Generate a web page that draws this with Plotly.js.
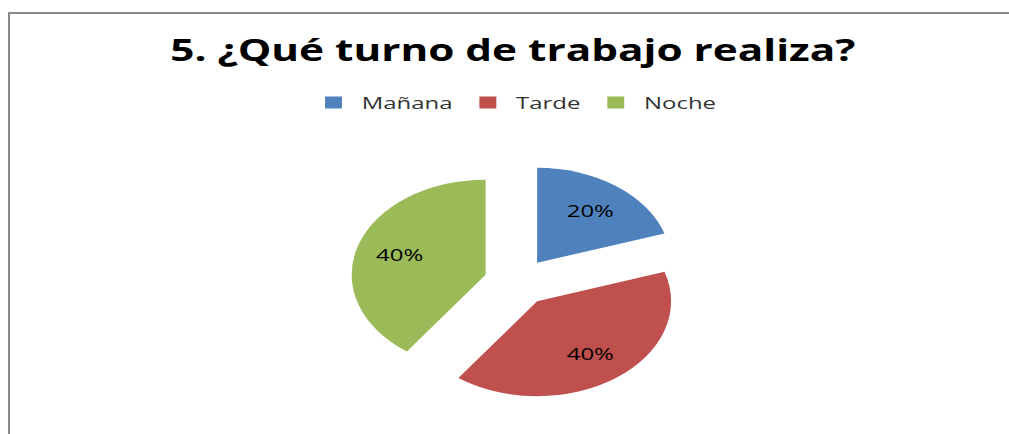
<!DOCTYPE html>
<html><head><meta charset="utf-8">
<script src="https://cdn.plot.ly/plotly-3.0.1.min.js"></script>
<style>
html,body{margin:0;padding:0;width:1009px;height:434px;overflow:hidden;background:#fff;}
#frame{position:absolute;left:8px;top:12px;width:1100px;height:500px;border-left:2px solid #8a8a8a;border-top:2px solid #8a8a8a;}
#chart{position:absolute;left:0;top:0;width:716px;height:434px;transform:scaleX(1.41);transform-origin:0 0;}
</style></head><body>
<div id="frame"></div>
<div id="chart"></div>
<script>
const categories = ['Mañana', 'Tarde', 'Noche'];
const values = [20, 40, 40];
const sliceColors = ['#4F81BD', '#C0504D', '#9BBB59'];
const chartTitle = '5. ¿Qué turno de trabajo realiza?';

const pieDomain = {x: [0.3466, 0.6785], y: [0.0766, 0.6238]};
const pulls = categories.map(() => 0.25);

// slices
const slices = {
  type: 'pie',
  labels: categories,
  values: values,
  sort: false,
  direction: 'clockwise',
  rotation: 0,
  pull: pulls,
  marker: {colors: sliceColors, line: {width: 0}},
  textinfo: 'none',
  hoverinfo: 'none',
  domain: pieDomain
};

// transparent overlay carrying the percentage labels (placed further out)
const labelLayer = {
  type: 'pie',
  labels: categories,
  values: values,
  sort: false,
  direction: 'clockwise',
  rotation: 0,
  pull: pulls,
  hole: 0.35,
  showlegend: false,
  marker: {colors: categories.map(() => 'rgba(0,0,0,0)'), line: {width: 0}},
  textinfo: 'percent',
  texttemplate: '%{percent:.0%}',
  textposition: 'inside',
  insidetextorientation: 'horizontal',
  textfont: {family: 'Open Sans', size: 17, color: '#000'},
  hoverinfo: 'none',
  domain: pieDomain
};

const layout = {
  width: 716, height: 434,
  margin: {l: 0, r: 0, t: 0, b: 0},
  paper_bgcolor: 'rgba(0,0,0,0)',
  plot_bgcolor: 'rgba(0,0,0,0)',
  font: {family: 'Open Sans', color: '#000'},
  title: {
    text: chartTitle,
    font: {family: 'Open Sans', size: 30, weight: 'bold', color: '#000'},
    x: 0.508, xanchor: 'center',
    y: 0.8825, yanchor: 'middle', yref: 'container'
  },
  showlegend: true,
  legend: {
    orientation: 'h',
    x: 0.5098, xanchor: 'center',
    y: 0.763, yanchor: 'middle',
    font: {family: 'Open Sans', size: 17, color: '#333'},
    itemwidth: 30,
    traceorder: 'normal'
  }
};

Plotly.newPlot('chart', [slices, labelLayer], layout, {staticPlot: true, displayModeBar: false});
</script>
</body></html>
